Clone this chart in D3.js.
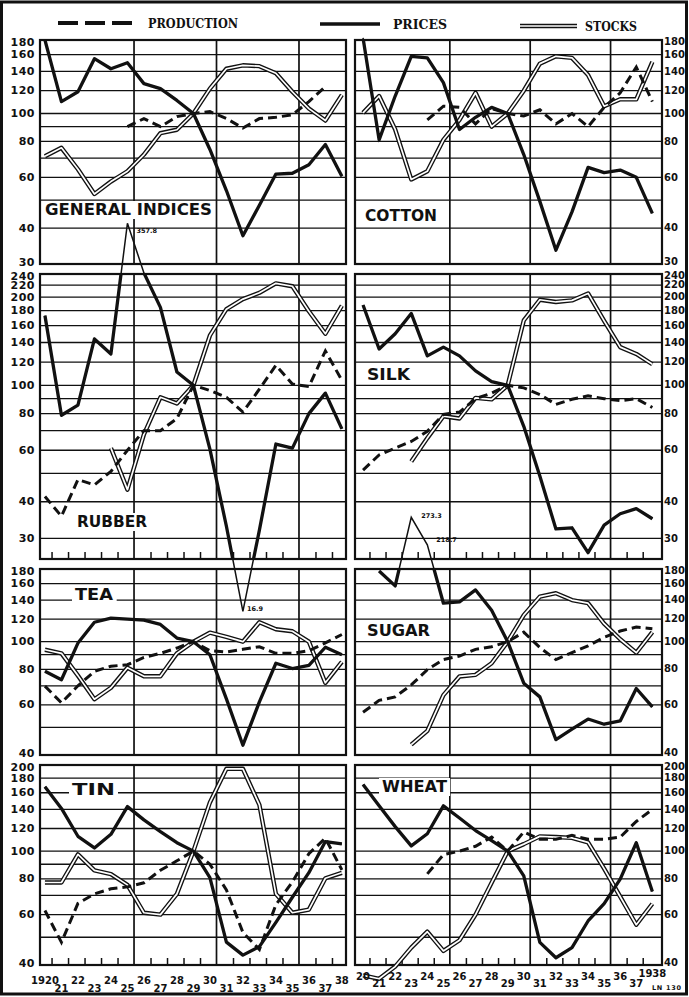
<!DOCTYPE html>
<html><head><meta charset="utf-8">
<script src="https://cdn.jsdelivr.net/npm/d3@7"></script>
<style>html,body{margin:0;padding:0;background:#fff;}svg{display:block;}</style>
</head><body>
<svg id="chart" width="689" height="997"></svg>
<script>
// ---------------- DATA (index numbers, 1929 = 100) ----------------
const years = [1920,1921,1922,1923,1924,1925,1926,1927,1928,1929,1930,1931,1932,1933,1934,1935,1936,1937,1938];

const generalPrices     = [180,110,119,155,143,150,127,122,111,100,75,54,37.6,48,61.6,62,66.4,78,60.5];
const generalStocks     = [71,76,64,52.5,58,63,72,85.4,87.8,100,122,143,147,146,138,119,104,94.5,116];
const generalProduction = [null,null,null,null,null,90,96,90,97.5,100,101.5,96,89,96,97,99,110,124,null];

const cottonPrices      = [183,81,115,158,156,128,88,97,105,100,72,49.5,33.5,45.5,65,62.3,63.6,60,45];
const cottonStocks      = [100.5,115,88,59,63,81,95,118,90,100,120,149,158,156,136,106,112,112,151];
const cottonProduction  = [null,null,null,null,95,106,105,92,104,100,98,103,92,100,90,105,118,145,110];

const rubberPrices      = [173,79,85.6,144,128,357.8,242,184.6,111,100,60.5,33,16.9,32,63,61,80,94,71];
const rubberStocks      = [null,null,null,null,61,44,68,91,86.7,100,148,182,197,207,223,218,179,150,187];
const rubberProduction  = [41.7,35.7,47.6,45.7,50.8,60,70,70,77,100,96,91,81,97,117,101,99,131,104];

const silkPrices        = [188,133,150,176,126,135,126,112,103,100,72.4,49,32.3,32.6,26.8,33.3,36.4,37.9,35];
const silkStocks        = [null,null,null,54.9,66,78.4,77,90.6,89.5,100,166.6,196,192.6,195,206,166,135,128,118];
const silkProduction    = [51.3,57.8,61,64.3,69.6,79.5,81,90,94,100,98,93,86,89.6,92,90,88.6,90,84];

const teaPrices         = [78.7,73.5,98.9,117,121,120,119,115,103,100,90,63,43.3,61.5,84,80.5,82.6,95.6,90];
const teaStocks         = [93.7,91,76,62.8,68.9,81,75.6,75.6,91,100,107.6,104,100,117,110.6,108.8,100,71.7,85];
const teaProduction     = [69.8,61,70,78.7,82,83,88,91,95,100,93,92,94,96,91,91,93,99,106];

const sugarPrices       = [null,177,157,273.3,218.7,136.5,138,152,129,100,71.5,64,45.3,49.3,53.5,51.3,52.7,68.5,59];
const sugarStocks       = [null,null,null,43.5,48.6,64.9,75.5,76.5,84,100,124,144,148,140,136.5,115.7,102,91.5,108];
const sugarProduction   = [56.5,62.2,64,70.5,79.7,86.6,89,94,96,100,108,95.4,86.5,91.5,96.7,103.6,109,112.5,111];

const tinPrices         = [167.9,141,112.7,102.6,114.5,143.1,128.6,117,107,100,80.8,48.1,43.3,46.4,56.4,69,84.1,108,106];
const tinStocks         = [77.7,77.7,97.4,85.7,83.1,76.2,60.9,60,70.9,100,148,194,194,145,70.9,60.9,62.5,80.4,84];
const tinProduction     = [62,48,65.7,70.9,73.9,75,77.5,85.7,92.5,100,90,73.2,52,45.3,65,78,98,111,86];

const wheatPrices       = [170.8,144,121.8,104.3,115,144,130.6,118,108.8,100,82,48,42.4,46,57,65.5,79.8,107,72.3];
const wheatStocks       = [36.8,35.8,39.5,46,52.3,44.8,48.8,60,77.6,100,105.8,112.6,112,111.3,107.3,86.9,69.3,55.3,65.5];
const wheatProduction   = [null,null,null,null,83.3,97.2,100,104,112,100,116.7,110,110,113.5,110,110,111.9,127,140];

// tick labels / grid values
const row1Labels = [180,160,140,120,100,80,60,40,30];
const row2Labels = [240,220,200,180,160,140,120,100,80,60,40,30];
const row3Labels = [180,160,140,120,100,80,60,40];
const row4Labels = [200,180,160,140,120,100,80,60,40];
const row1Grid = [180,160,140,120,100,90,80,70,60,50,40,30];
const row2Grid = [240,220,200,180,160,140,120,100,90,80,70,60,50,40,30];
const row3Grid = [180,160,140,120,100,90,80,70,60,50,40];
const row4Grid = [200,180,160,140,120,100,90,80,70,60,50,40];
const leftYearLabels  = ["1920","21","22","23","24","25","26","27","28","29","30","31","32","33","34","35","36","37","38"];
const rightYearLabels = ["20","21","22","23","24","25","26","27","28","29","30","31","32","33","34","35","36","37","1938"];
const legendLabels = ["PRODUCTION","PRICES","STOCKS"];

// ---------------- LAYOUT ----------------
const svg = d3.select("#chart");
const INK = "#111";
const rowsLayout = [
  {top:40,  bottom:264, domain:[30,180],   labels:row1Labels, grid:row1Grid, ticks:false},
  {top:274, bottom:559, domain:[25.5,240], labels:row2Labels, grid:row2Grid, ticks:true},
  {top:569, bottom:755, domain:[40,180],   labels:row3Labels, grid:row3Grid, ticks:false},
  {top:765, bottom:965, domain:[40,200],   labels:row4Labels, grid:row4Grid, ticks:true}
];
const colsLayout = [
  {x0:40,  x1:346, domain:[1919.7,1938.25], hi:984, lo:992, yearLabels:leftYearLabels},
  {x0:355, x1:662, domain:[1919.5,1938.6],  hi:980, lo:987, yearLabels:rightYearLabels}
];
rowsLayout.forEach(r => r.y = d3.scaleLog().domain(r.domain).range([r.bottom, r.top]));
colsLayout.forEach(c => c.x = d3.scaleLinear().domain(c.domain).range([c.x0, c.x1]));

const verticalPos = [1925.4, 1930.4, 1935.4];
const tickPos = years.slice(0, 18).filter(y => y !== 1925 && y !== 1930 && y !== 1935).map(y => y + 0.4);

const panels = [
  {name:"GENERAL INDICES", r:0, c:0, prices:generalPrices, stocks:generalStocks, production:generalProduction, lx:45,  ly:215, lw:167},
  {name:"COTTON",          r:0, c:1, prices:cottonPrices,  stocks:cottonStocks,  production:cottonProduction,  lx:365, ly:221, lw:72},
  {name:"RUBBER",          r:1, c:0, prices:rubberPrices,  stocks:rubberStocks,  production:rubberProduction,  lx:77,  ly:527, lw:70},
  {name:"SILK",            r:1, c:1, prices:silkPrices,    stocks:silkStocks,    production:silkProduction,    lx:367, ly:380, lw:43},
  {name:"TEA",             r:2, c:0, prices:teaPrices,     stocks:teaStocks,     production:teaProduction,     lx:75,  ly:600, lw:38},
  {name:"SUGAR",           r:2, c:1, prices:sugarPrices,   stocks:sugarStocks,   production:sugarProduction,   lx:367, ly:636, lw:63},
  {name:"TIN",             r:3, c:0, prices:tinPrices,     stocks:tinStocks,     production:tinProduction,     lx:72,  ly:795, lw:43},
  {name:"WHEAT",           r:3, c:1, prices:wheatPrices,   stocks:wheatStocks,   production:wheatProduction,   lx:382, ly:792, lw:65}
];
const peakNotes = [
  {panel:"RUBBER", year:1925, dx:9,  dy:10},
  {panel:"RUBBER", year:1932, dx:4,  dy:0},
  {panel:"SUGAR",  year:1923, dx:10, dy:1},
  {panel:"SUGAR",  year:1924, dx:9,  dy:-3}
];

// outer frame
svg.append("rect").attr("x",1.5).attr("y",2).attr("width",685).attr("height",992)
  .attr("fill","none").attr("stroke",INK).attr("stroke-width",3);

const defs = svg.append("defs");
const gridLayer = svg.append("g");
const labelLayer = svg.append("g");
const lineLayer = svg.append("g");

panels.forEach((p, i) => {
  const R = rowsLayout[p.r], C = colsLayout[p.c];
  const g = gridLayer.append("g");
  R.grid.forEach(v => g.append("line")
    .attr("x1", C.x0).attr("x2", C.x1).attr("y1", R.y(v)).attr("y2", R.y(v))
    .attr("stroke", INK).attr("stroke-width", 1.3));
  verticalPos.forEach(v => g.append("line")
    .attr("x1", C.x(v)).attr("x2", C.x(v)).attr("y1", R.top).attr("y2", R.bottom)
    .attr("stroke", INK).attr("stroke-width", 1.7));
  if (R.ticks) {
    const ax = g.append("g").attr("transform", `translate(0,${R.bottom})`)
      .call(d3.axisBottom(C.x).tickValues(tickPos).tickSize(-7).tickFormat(""));
    ax.select(".domain").remove();
    ax.selectAll("line").attr("stroke", INK).attr("stroke-width", 1.5);
  }
  g.append("rect").attr("x", C.x0).attr("y", R.top).attr("width", C.x1 - C.x0).attr("height", R.bottom - R.top)
    .attr("fill", "none").attr("stroke", INK).attr("stroke-width", 2.2);

  defs.append("clipPath").attr("id", "clip" + i).append("rect")
    .attr("x", C.x0).attr("y", R.top).attr("width", C.x1 - C.x0).attr("height", R.bottom - R.top);

  // panel label with white box
  const lg = labelLayer.append("g");
  const box = lg.append("rect").attr("fill", "#fff");
  const t = lg.append("text").attr("x", p.lx).attr("y", p.ly)
    .attr("font-family", "DejaVu Sans, sans-serif").attr("font-weight", "bold").attr("font-size", 16)
    .attr("textLength", p.lw).attr("lengthAdjust", "spacingAndGlyphs").attr("fill", INK).text(p.name);
  const bb = t.node().getBBox();
  box.attr("x", bb.x - 3).attr("y", bb.y + 1).attr("width", bb.width + 6).attr("height", bb.height - 1);

  // series
  const pts = arr => years.map((yr, k) => ({yr, v: arr[k]}));
  const line = d3.line().defined(d => d.v != null).x(d => C.x(d.yr)).y(d => R.y(d.v));
  const lg2 = lineLayer.append("g");
  // stocks (double line)
  lg2.append("path").attr("d", line(pts(p.stocks))).attr("fill", "none").attr("stroke", INK)
    .attr("stroke-width", 4.4).attr("stroke-linejoin", "round");
  lg2.append("path").attr("d", line(pts(p.stocks))).attr("fill", "none").attr("stroke", "#fff")
    .attr("stroke-width", 1.7).attr("stroke-linejoin", "round");
  // production (dashed)
  lg2.append("path").attr("d", line(pts(p.production))).attr("fill", "none").attr("stroke", INK)
    .attr("stroke-width", 3).attr("stroke-dasharray", "9,5");
  // prices: thin outside the panel, thick inside
  lg2.append("path").attr("d", line(pts(p.prices))).attr("fill", "none").attr("stroke", INK)
    .attr("stroke-width", 1.5);
  lg2.append("path").attr("d", line(pts(p.prices))).attr("fill", "none").attr("stroke", INK)
    .attr("stroke-width", 3.3).attr("stroke-linejoin", "round").attr("clip-path", `url(#clip${i})`);
});

// peak notes
peakNotes.forEach(n => {
  const p = panels.find(q => q.name === n.panel);
  const R = rowsLayout[p.r], C = colsLayout[p.c];
  const v = p.prices[years.indexOf(n.year)];
  lineLayer.append("text").attr("x", C.x(n.year) + n.dx).attr("y", R.y(v) + n.dy)
    .attr("font-family", "DejaVu Sans, sans-serif").attr("font-weight", "bold").attr("font-size", 6.5)
    .attr("fill", INK).text(String(v));
});

// y-axis labels
rowsLayout.forEach(R => {
  const top = R.labels[0], bot = R.labels[R.labels.length - 1];
  const nudge = d => (d === top ? 2 : (d === bot && R.y(d) === R.bottom ? -2 : 0));
  const l = svg.append("g").attr("transform", "translate(35,0)")
    .call(d3.axisLeft(R.y).tickValues(R.labels).tickSize(0).tickPadding(0).tickFormat(d3.format("d")));
  const r = svg.append("g").attr("transform", "translate(664,0)")
    .call(d3.axisRight(R.y).tickValues(R.labels).tickSize(0).tickPadding(0).tickFormat(d3.format("d")));
  l.selectAll("text").attr("font-size", 11).attr("letter-spacing", 0.5);
  r.selectAll("text").attr("font-size", 10).attr("letter-spacing", 0);
  [l, r].forEach(a => {
    a.select(".domain").remove();
    a.selectAll(".tick").attr("transform", d => `translate(0,${R.y(d) + nudge(d)})`);
    a.selectAll("text").attr("font-family", "DejaVu Sans, sans-serif").attr("font-weight", "bold")
      .attr("fill", INK);
  });
});

// year labels (staggered)
colsLayout.forEach((C, ci) => {
  years.forEach((yr, k) => {
    const isLastRight = ci === 1 && k === years.length - 1;
    svg.append("text").attr("x", C.x(yr)).attr("y", isLastRight ? C.hi - 3 : (k % 2 === 0 ? C.hi : C.lo))
      .attr("text-anchor", "middle").attr("font-family", "DejaVu Sans, sans-serif")
      .attr("font-weight", "bold").attr("font-size", 10).attr("fill", INK).text(C.yearLabels[k]);
  });
});
svg.append("text").attr("x", 652).attr("y", 990).attr("font-family", "DejaVu Sans, sans-serif")
  .attr("font-weight", "bold").attr("font-size", 6.5).attr("textLength", 29).attr("fill", INK).text("LN 130");

// legend
const leg = svg.append("g");
leg.append("line").attr("x1", 58).attr("x2", 137).attr("y1", 23).attr("y2", 23)
  .attr("stroke", INK).attr("stroke-width", 4).attr("stroke-dasharray", "20,7");
leg.append("line").attr("x1", 320).attr("x2", 380).attr("y1", 24).attr("y2", 24)
  .attr("stroke", INK).attr("stroke-width", 3.5);
leg.append("line").attr("x1", 520).attr("x2", 577).attr("y1", 26).attr("y2", 26)
  .attr("stroke", INK).attr("stroke-width", 4.4);
leg.append("line").attr("x1", 520).attr("x2", 577).attr("y1", 26).attr("y2", 26)
  .attr("stroke", "#fff").attr("stroke-width", 1.6);
[[148, 27.5, 90], [393, 29, 54], [585, 30.5, 52]].forEach((pos, k) => {
  leg.append("text").attr("x", pos[0]).attr("y", pos[1]).attr("textLength", pos[2])
    .attr("lengthAdjust", "spacingAndGlyphs")
    .attr("font-family", "DejaVu Serif, serif").attr("font-weight", "bold").attr("font-size", 12)
    .attr("fill", INK).text(legendLabels[k]);
});
</script>
</body></html>
